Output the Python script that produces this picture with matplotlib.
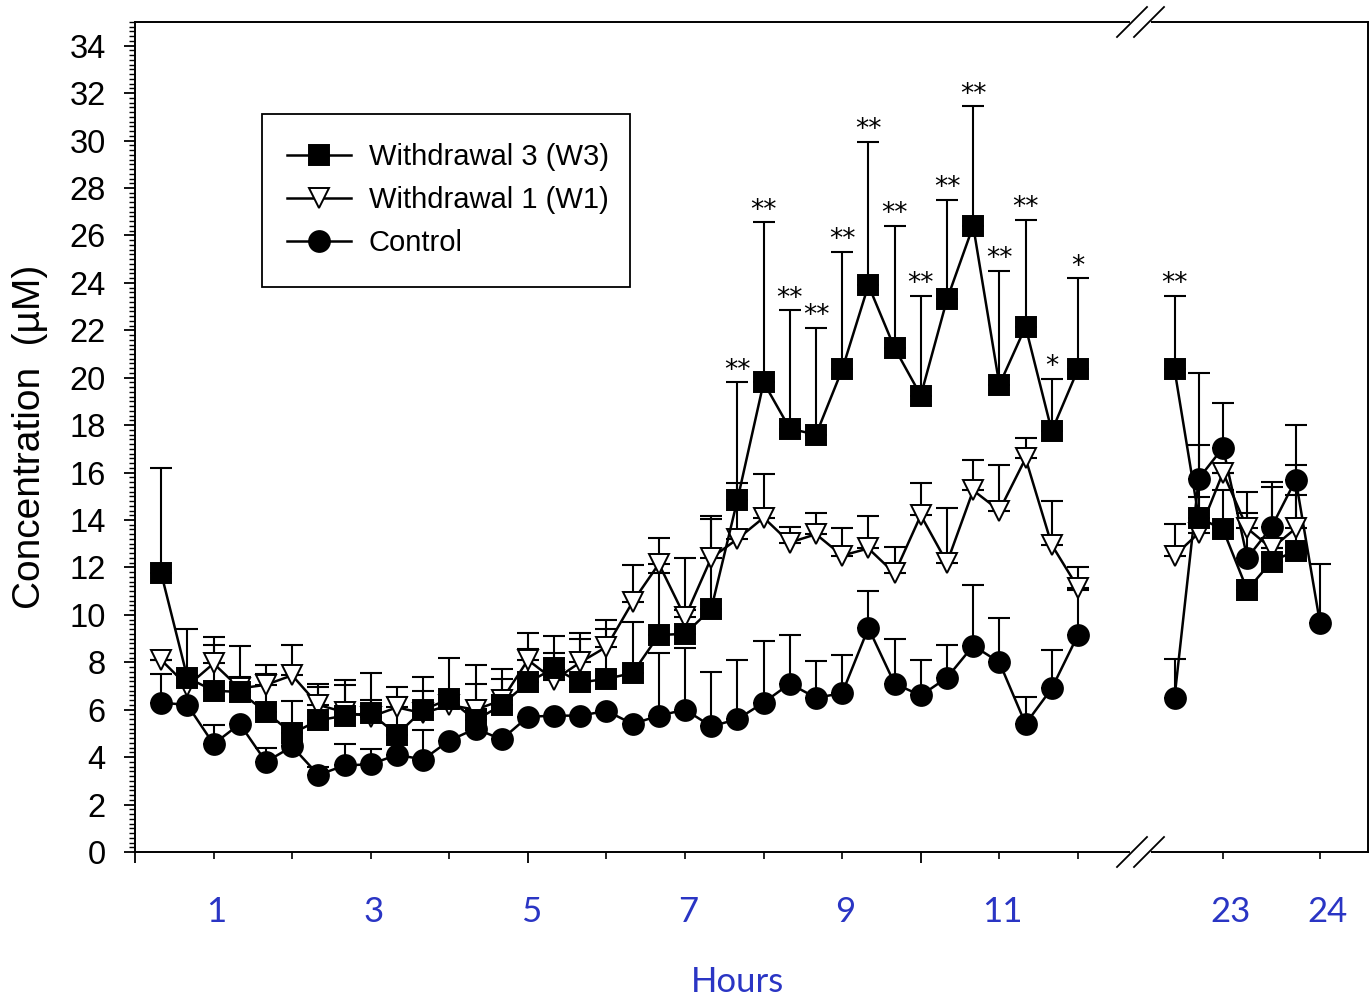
import matplotlib
matplotlib.use("Agg")
import matplotlib.pyplot as plt
from matplotlib.lines import Line2D
from matplotlib.patches import Polygon, Rectangle

# time points (hours), 20 min samples on day 1, 15 min samples around 23 h
hours_a = [(i + 1) / 3 for i in range(36)]
hours_b = [22.5, 22.75, 23.0, 23.25, 23.5, 23.75]
hours_b_ctrl = [22.5, 22.75, 23.0, 23.25, 23.5, 23.75, 24.0]

w3_a = [11.75, 7.35, 6.8, 6.75, 5.9, 5.0, 5.55, 5.75, 5.85, 4.95, 6.0, 6.45,
        5.55, 6.2, 7.15, 7.75, 7.15, 7.3, 7.55, 9.15, 9.2, 10.25, 14.85, 19.8,
        17.85, 17.6, 20.35, 23.9, 21.25, 19.25, 23.3, 26.4, 19.7, 22.15, 17.75, 20.35]
w3_a_err = [4.45, 2.05, 2.25, 1.95, 2.0, 1.35, 1.55, 1.5, 1.7, 1.6, 1.4, 1.75,
            1.55, 1.1, 2.1, 0.65, 1.85, 2.1, 2.15, 2.6, 3.2, 3.8, 4.95, 6.75,
            5.0, 4.5, 4.95, 6.05, 5.15, 4.2, 4.2, 5.05, 4.8, 4.5, 2.2, 3.85]
w3_b = [20.35, 14.1, 13.6, 11.05, 12.25, 12.7]
w3_b_err = [3.1, 3.05, 1.65, 0.0, 3.15, 3.6]

w1_a = [8.1, 7.0, 7.95, 6.9, 7.05, 7.45, 6.2, 5.9, 5.7, 6.1, 5.85, 6.2,
        6.0, 6.4, 8.1, 7.25, 8.0, 8.65, 10.55, 12.15, 9.9, 12.4, 13.2, 14.1,
        13.05, 13.4, 12.5, 12.8, 11.75, 14.2, 12.2, 15.25, 14.4, 16.6, 12.95, 11.15]
w1_a_err = [0.0, 0.0, 0.8, 0.5, 0.45, 1.3, 0.75, 1.15, 0.7, 0.85, 0.95, 0.3,
            1.9, 1.3, 0.45, 1.85, 1.25, 1.15, 1.55, 1.1, 0.3, 1.75, 2.35, 1.85,
            0.65, 0.9, 1.15, 1.35, 1.1, 1.35, 2.3, 1.3, 1.9, 0.85, 1.85, 0.85]
w1_b = [12.5, 13.45, 16.0, 13.65, 12.8, 13.65]
w1_b_err = [1.35, 1.5, 0.0, 1.55, 0.0, 1.4]

ctrl_a = [6.3, 6.2, 4.55, 5.4, 3.8, 4.45, 3.25, 3.65, 3.7, 4.1, 3.9, 4.7,
          5.2, 4.75, 5.7, 5.75, 5.75, 5.95, 5.4, 5.75, 6.0, 5.3, 5.6, 6.3,
          7.1, 6.5, 6.7, 9.45, 7.1, 6.6, 7.35, 8.7, 8.0, 5.4, 6.9, 9.15]
ctrl_a_err = [1.2, 0.0, 0.8, 0.0, 0.6, 0.0, 0.35, 0.9, 0.65, 0.0, 1.25, 0.0,
              0.85, 0.0, 0.0, 0.0, 0.0, 0.0, 0.0, 2.65, 2.6, 2.3, 2.5, 2.6,
              2.05, 1.55, 1.6, 1.55, 1.9, 1.5, 1.4, 2.55, 1.85, 1.15, 1.6, 1.9]
ctrl_b = [6.5, 15.75, 17.05, 12.4, 13.7, 15.7, 9.65]
ctrl_b_err = [1.65, 4.45, 1.9, 1.9, 1.9, 2.3, 2.5]

# significance marks for W3 (index into day-1 series)
stars_a = {22: "**", 23: "**", 24: "**", 25: "**", 26: "**", 27: "**", 28: "**",
           29: "**", 30: "**", 31: "**", 32: "**", 33: "**", 34: "*", 35: "*"}
stars_b = {0: "**"}

xlabels_a = [1, 3, 5, 7, 9, 11]
xlabels_b = [23, 24]

blue = "#2a35c4"
plt.rcParams["font.family"] = ["Liberation Sans", "DejaVu Sans"]

fig = plt.figure(figsize=(13.71, 10.01), dpi=100)
ax1 = fig.add_axes([135 / 1371, 149 / 1001, 1005 / 1371, 830 / 1001])
ax2 = fig.add_axes([1140 / 1371, 149 / 1001, 228 / 1371, 830 / 1001])

series = [
    ("Withdrawal 3 (W3)", "s", "black", 14, (w3_a, w3_a_err), (w3_b, w3_b_err), hours_b, 5),
    ("Withdrawal 1 (W1)", "v", "white", 15, (w1_a, w1_a_err), (w1_b, w1_b_err), hours_b, 4),
    ("Control", "o", "black", 15, (ctrl_a, ctrl_a_err), (ctrl_b, ctrl_b_err), hours_b_ctrl, 3),
]

for name, mk, fc, ms, da, db, hb, z in series:
    for ax, xs, (ys, es) in ((ax1, hours_a, da), (ax2, hb, db)):
        ax.errorbar(xs, ys, yerr=[[0] * len(es), es], fmt="none", ecolor="black",
                    elinewidth=1.5, capsize=8, capthick=1.5, zorder=2)
        ax.plot(xs, ys, color="black", lw=1.8, marker=mk, ms=ms, mfc=fc,
                mec="black", mew=1.4, zorder=z)

for i, s in stars_a.items():
    ax1.annotate(s, (hours_a[i], w3_a[i] + w3_a_err[i]), xytext=(0, -1),
                 textcoords="offset points", ha="center", va="bottom",
                 fontsize=19, family="DejaVu Sans")
for i, s in stars_b.items():
    ax2.annotate(s, (hours_b[i], w3_b[i] + w3_b_err[i]), xytext=(0, -1),
                 textcoords="offset points", ha="center", va="bottom",
                 fontsize=19, family="DejaVu Sans")

for ax in (ax1, ax2):
    ax.set_ylim(0, 35)
    for sp in ax.spines.values():
        sp.set_linewidth(1.4)

ax1.set_xlim(0, 1005 / 78.58)
ax2.set_xlim(24 - 180 / 97, 24 + 48 / 97)

ax1.spines["right"].set_visible(False)
ax2.spines["left"].set_visible(False)

ax1.set_yticks(range(0, 35, 2))
ax1.set_yticks([i * 0.2 for i in range(0, 176)], minor=True)
ax1.tick_params(axis="y", which="major", direction="out", length=8, width=1.3,
                labelsize=23.5, pad=13)
ax1.tick_params(axis="y", which="minor", direction="out", length=4.5, width=1.0)

ax1.set_xticks([0, 5, 10])
ax1.set_xticks(range(0, 13), minor=True)
ax1.tick_params(axis="x", which="major", direction="out", length=8, width=1.3,
                labelbottom=False)
ax1.tick_params(axis="x", which="minor", direction="out", length=5, width=1.2)

ax2.set_yticks([])
ax2.set_xticks([23, 24])
ax2.tick_params(axis="x", which="major", direction="out", length=5, width=1.2,
                labelbottom=False)

for h in xlabels_a:
    ax1.text(h + 0.04, -0.072, str(h), transform=ax1.get_xaxis_transform(),
             ha="center", va="center", fontsize=25, color=blue, family="Lato")
for h in xlabels_b:
    ax2.text(h + 0.08, -0.072, str(h), transform=ax2.get_xaxis_transform(),
             ha="center", va="center", fontsize=25, color=blue, family="Lato")

fig.text(737 / 1371, 1 - 982 / 1001, "Hours", ha="center", va="center",
         fontsize=25, color=blue, family="Lato")
ax1.set_ylabel("Concentration  (\u00b5M)", fontsize=28)
ax1.yaxis.set_label_coords(-0.087, 0.5)

# axis break marks
for yb in (22, 852):
    yf = 1 - yb / 1001
    dx, dy = 15 / 1371, 15 / 1001
    for x0 in (1132, 1149):
        xf = x0 / 1371
        fig.add_artist(Line2D([xf - dx, xf + dx], [yf - dy, yf + dy], color="black",
                              lw=1.3, transform=fig.transFigure, zorder=10))
    gap = Polygon([[1130 / 1371, yf - 2.5 / 1001], [1151 / 1371, yf - 2.5 / 1001],
                   [1151 / 1371, yf + 2.5 / 1001], [1130 / 1371, yf + 2.5 / 1001]],
                  closed=True, facecolor="white", edgecolor="none",
                  transform=fig.transFigure, zorder=9)
    fig.add_artist(gap)

# legend: entries without frame, box drawn separately
handles = [Line2D([], [], color="black", lw=1.8, marker=mk, ms=ms, mfc=fc, mec="black", mew=1.4)
           for name, mk, fc, ms, *_ in series]
leg = ax1.legend(handles, [s[0] for s in series], loc="upper left",
                 bbox_to_anchor=(287 / 1371, 1 - 143 / 1001), bbox_transform=fig.transFigure,
                 fontsize=21, frameon=False, handlelength=2.2, handletextpad=0.6,
                 labelspacing=0.52, borderpad=0, borderaxespad=0)
fig.add_artist(Rectangle((262 / 1371, 1 - 287 / 1001), 368 / 1371, 173 / 1001,
                         transform=fig.transFigure, facecolor="none",
                         edgecolor="black", lw=1.3, zorder=6))

fig.savefig("out.png", dpi=100)
